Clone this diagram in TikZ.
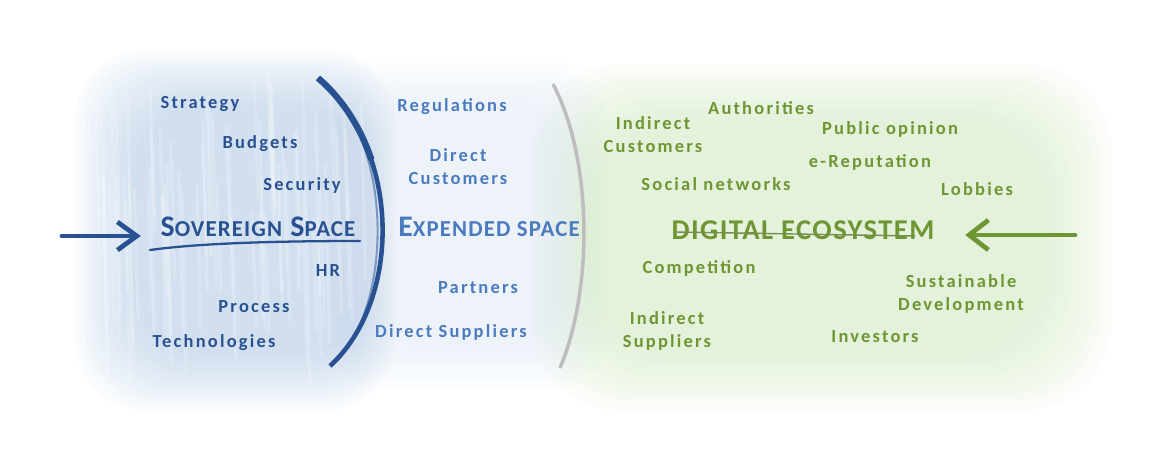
\documentclass[tikz,border=0pt]{standalone}
\usepackage{fontspec}
\setmainfont{Carlito}[LetterSpace=12]
\newfontfamily\headfont{Carlito}[LetterSpace=5]
\usetikzlibrary{arrows.meta}
\definecolor{sovblue}{HTML}{285191}
\definecolor{expblue}{HTML}{4A7BBF}
\definecolor{ecogreen}{HTML}{6E9632}
\definecolor{washblue}{RGB}{167,194,225}
\definecolor{washpale}{RGB}{228,236,247}
\definecolor{washgreen}{RGB}{209,232,194}
\definecolor{arcgray}{HTML}{BDBDBD}
\newcommand{\smallcap}[1]{{\fontsize{13}{15}\selectfont #1}}

\begin{document}
\begin{tikzpicture}[
  x=0.02cm, y=-0.02cm,
  inner/.style={font=\fontsize{10.5}{13}\selectfont\bfseries, text=sovblue, align=center, inner sep=1pt},
  expanded/.style={inner, text=expblue},
  outer/.style={inner, text=ecogreen},
  title/.style={font=\headfont\fontsize{17}{19}\selectfont\bfseries, inner sep=2pt},
  brush/.style={line width=2.7pt, line cap=round},
]
\useasboundingbox (0,0) rectangle (1174,464);

% Washes
\foreach \i in {0,...,11}{
  \fill[washblue, opacity=0.06, rounded corners=40] (75+\i*5,50+\i*5) rectangle (395-\i*2,410-\i*5);
  \fill[washpale, opacity=0.08, rounded corners=30] (330+\i*4,60+\i*4) rectangle (605-\i*4,390-\i*4);
  \fill[washgreen, opacity=0.07, rounded corners=50] (532+\i*5,64+\i*5) rectangle (1112-\i*6,410-\i*5);
}
% brush streaks
\pgfmathsetseed{7}
\foreach \i in {1,...,70}{
  \pgfmathsetmacro{\sx}{95+rnd*270}
  \pgfmathsetmacro{\sy}{70+rnd*150}
  \draw[white, opacity=0.18, line width=1.8pt, line cap=round] (\sx,\sy) -- (\sx+4,\sy+100+rnd*80);
}

% Borders of the spaces
\draw[sovblue, line width=2.6pt] (318,78) .. controls (402,150) and (402,300) .. (330,366);
\draw[sovblue, line width=1.2pt, opacity=0.5] (324,82) .. controls (394,148) and (392,300) .. (338,360);
\draw[sovblue, line width=3.6pt] (318,78) .. controls (343.2,99.6) and (360.8,128.3) .. (371.4,159.5);
\draw[arcgray, line width=2pt] (553,84) .. controls (593,160) and (593,290) .. (560,368);

% --- Sovereign space ---
\node[title, text=sovblue] (sov) at (258,227) {S\smallcap{OVEREIGN} S\smallcap{PACE}};
\node[inner] (strategy) at (200,104) {Strategy};
\node[inner] (budgets) at (260,144) {Budgets};
\node[inner] (security) at (302,185) {Security};
\node[inner] (hr) at (328,271) {HR};
\node[inner] (process) at (254,307) {Process};
\node[inner] (techno) at (214,343) {Technologies};

% --- Expended space ---
\node[title, text=expblue] (exp) at (489,227) {E\smallcap{XPENDED SPACE}};
\node[expanded] (regul) at (452,107) {Regulations};
\node[expanded] (dircust) at (458,167) {Direct\\Customers};
\node[expanded] (partners) at (478,288) {Partners};
\node[expanded] (dirsupp) at (451,332) {Direct Suppliers};

% --- Digital ecosystem ---
\node[title, text=ecogreen, font=\headfont\fontsize{16.3}{19}\selectfont\bfseries] (eco) at (803,230) {DIGITAL ECOSYSTEM};
\node[outer] (indcust) at (653,135) {Indirect\\Customers};
\node[outer] (authorities) at (761,108) {Authorities};
\node[outer] (opinion) at (890,129) {Public opinion};
\node[outer] (ereput) at (870,162) {e-Reputation};
\node[outer] (social) at (716,184) {Social networks};
\node[outer] (lobbies) at (977,189) {Lobbies};
\node[outer] (competition) at (699,268) {Competition};
\node[outer] (sustain) at (961,294) {Sustainable\\Development};
\node[outer] (indsupp) at (667,331) {Indirect\\Suppliers};
\node[outer] (investors) at (875,337) {Investors};

% Underline and strike
\draw[sovblue, line width=1.3pt, line cap=round] (150,250) .. controls (200,243) and (280,241) .. (360,241);
\draw[ecogreen!60!gray, line width=0.8pt] (676,232) -- (915,236);

% Arrows into the spaces
\coordinate (blueIn) at (62,236);
\coordinate (greenIn) at (1075,235);
\draw[brush, sovblue, -{Straight Barb[length=11pt, width=16pt]}, shorten >=0.32cm] (blueIn) -- (blueIn -| sov.west);
\draw[brush, ecogreen, -{Straight Barb[length=11pt, width=17pt]}, shorten >=0.54cm] (greenIn) -- (greenIn -| eco.east);

\end{tikzpicture}
\end{document}
